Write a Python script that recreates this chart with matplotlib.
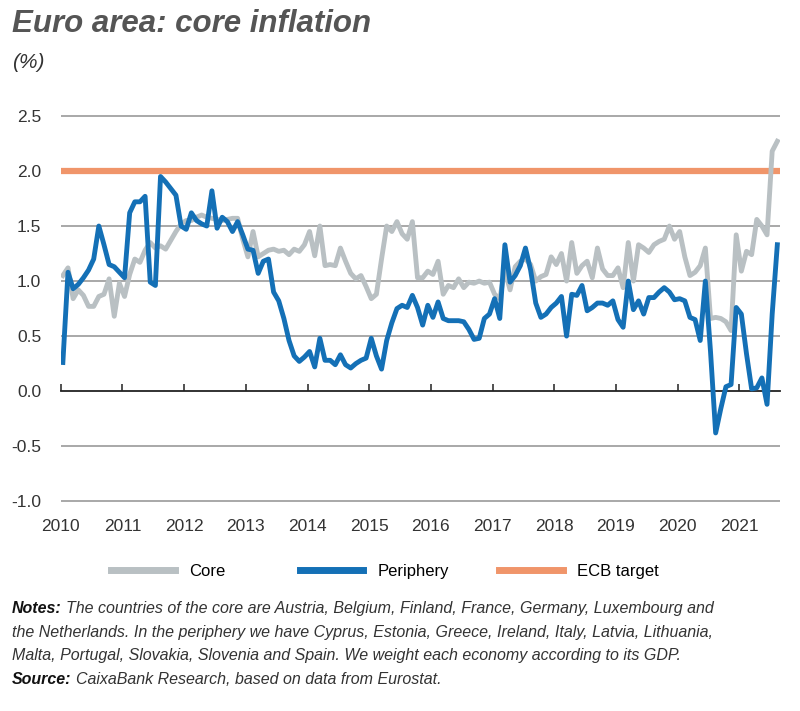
import numpy as np
import matplotlib
matplotlib.use("Agg")
import matplotlib.pyplot as plt

plt.rcParams['font.family'] = ['Liberation Sans', 'DejaVu Sans']

# monthly data, Jan 2010 - Aug 2021
periphery = [
    0.26, 1.08, 0.93, 0.97, 1.03, 1.10, 1.20, 1.50, 1.33, 1.15, 1.13, 1.08,
    1.03, 1.62, 1.72, 1.72, 1.77, 0.99, 0.96, 1.95, 1.90, 1.84, 1.78, 1.50,
    1.47, 1.62, 1.55, 1.52, 1.50, 1.82, 1.48, 1.58, 1.54, 1.45, 1.54, 1.42,
    1.29, 1.28, 1.07, 1.18, 1.20, 0.90, 0.82, 0.66, 0.46, 0.32, 0.27, 0.31,
    0.36, 0.22, 0.48, 0.28, 0.28, 0.24, 0.33, 0.24, 0.21, 0.25, 0.28, 0.30,
    0.48, 0.32, 0.20, 0.46, 0.62, 0.75, 0.78, 0.76, 0.87, 0.76, 0.60, 0.78,
    0.67, 0.81, 0.66, 0.64, 0.64, 0.64, 0.63, 0.56, 0.47, 0.48, 0.66, 0.70,
    0.84, 0.66, 1.33, 0.99, 1.05, 1.14, 1.30, 1.10, 0.80, 0.67, 0.70, 0.76,
    0.80, 0.86, 0.50, 0.88, 0.87, 0.96, 0.73, 0.76, 0.80, 0.80, 0.78, 0.82,
    0.65, 0.58, 1.00, 0.74, 0.82, 0.70, 0.85, 0.85, 0.90, 0.94, 0.90, 0.83,
    0.84, 0.82, 0.67, 0.65, 0.46, 1.00, 0.36, -0.38, -0.16, 0.04, 0.06, 0.76,
    0.70, 0.34, 0.02, 0.03, 0.12, -0.12, 0.70, 1.33,
]
core = [
    1.05, 1.12, 0.84, 0.92, 0.87, 0.77, 0.77, 0.86, 0.88, 1.02, 0.68, 0.98,
    0.86, 1.06, 1.20, 1.17, 1.28, 1.35, 1.30, 1.32, 1.29, 1.37, 1.45, 1.52,
    1.55, 1.55, 1.58, 1.60, 1.58, 1.57, 1.56, 1.55, 1.56, 1.57, 1.57, 1.38,
    1.22, 1.45, 1.22, 1.25, 1.28, 1.29, 1.27, 1.28, 1.24, 1.29, 1.27, 1.33,
    1.45, 1.23, 1.50, 1.14, 1.15, 1.14, 1.30, 1.18, 1.07, 1.02, 1.05, 0.95,
    0.84, 0.88, 1.20, 1.50, 1.45, 1.54, 1.43, 1.38, 1.54, 1.03, 1.03, 1.09,
    1.06, 1.18, 0.88, 0.96, 0.94, 1.02, 0.94, 0.99, 0.98, 1.00, 0.98, 0.99,
    0.88, 0.84, 1.10, 0.92, 1.13, 1.18, 1.20, 1.15, 1.00, 1.04, 1.06, 1.22,
    1.15, 1.25, 1.00, 1.35, 1.07, 1.14, 1.18, 1.03, 1.30, 1.11, 1.05, 1.05,
    1.12, 0.94, 1.35, 1.00, 1.33, 1.30, 1.26, 1.33, 1.36, 1.38, 1.50, 1.38,
    1.45, 1.22, 1.05, 1.08, 1.14, 1.30, 0.66, 0.67, 0.66, 0.63, 0.55, 1.42,
    1.09, 1.27, 1.24, 1.56, 1.50, 1.42, 2.18, 2.27,
]
ecb_target = 2.0
years = list(range(2010, 2022))
yticks = [-1.0, -0.5, 0.0, 0.5, 1.0, 1.5, 2.0, 2.5]

dates = 2010 + (np.arange(len(core)) + 0.4) / 12

fig = plt.figure(figsize=(8, 7.11), dpi=100)
ax = fig.add_axes([0.076, 0.292, 0.899, 0.548])

for y in yticks:
    if y != 0:
        ax.axhline(y, color='#9a9a9a', lw=1.2, zorder=1)

ax.axhline(ecb_target, color='#f0956a', lw=4.5, zorder=2, label='ECB target')
ax.plot(dates, core, color='#b9c0c3', lw=3.5, zorder=3, label='Core')
ax.plot(dates, periphery, color='#1470b6', lw=3.5, zorder=4, label='Periphery')

ax.set_xlim(2010, 2021.66)
ax.set_ylim(-1.02, 2.52)
ax.set_yticks(yticks)
ax.set_yticklabels([f'{v:.1f}' for v in yticks], fontsize=12.5, color='#333333')
ax.tick_params(axis='y', length=0, pad=14)

for s in ['top', 'right', 'left']:
    ax.spines[s].set_visible(False)
ax.spines['bottom'].set_position(('data', 0))
ax.spines['bottom'].set_color('#222222')
ax.spines['bottom'].set_linewidth(1.3)
ax.set_xticks(years)
ax.tick_params(axis='x', direction='in', length=5, width=1.1, color='#222222',
               labelbottom=False)

sec = ax.secondary_xaxis(0.0)
sec.set_xticks(years)
sec.set_xticklabels([str(y) for y in years], fontsize=12.5, color='#333333')
sec.tick_params(length=0, pad=11)
sec.spines['bottom'].set_visible(False)

fig.text(0.015, 0.966, 'Euro area: core inflation', fontsize=22.5, fontweight='bold',
         fontstyle='italic', color='#555555', va='center')
fig.text(0.015, 0.912, '(%)', fontsize=15, fontstyle='italic', color='#333333', va='center')

# legend: one entry per block, placed like the original
h, l = ax.get_legend_handles_labels()
for idx, xpos in zip([1, 2, 0], [0.139, 0.375, 0.624]):
    fig.legend([h[idx]], [l[idx]], loc='center left', bbox_to_anchor=(xpos, 0.196),
               frameon=False, fontsize=12, handlelength=3.8, handletextpad=0.85,
               borderpad=0, borderaxespad=0)
for lg in fig.legends:
    for ln in lg.get_lines():
        ln.set_linewidth(5)

ys = [0.1435, 0.111, 0.0785, 0.045]
lines = [
    'The countries of the core are Austria, Belgium, Finland, France, Germany, Luxembourg and',
    'the Netherlands. In the periphery we have Cyprus, Estonia, Greece, Ireland, Italy, Latvia, Lithuania,',
    'Malta, Portugal, Slovakia, Slovenia and Spain. We weight each economy according to its GDP.',
    'CaixaBank Research, based on data from Eurostat.',
]
heads = ['Notes:', '', '', 'Source:']
for head, line, y in zip(heads, lines, ys):
    x0 = 0.015
    if head:
        t = fig.text(x0, y, head, fontsize=11.5, fontweight='bold', fontstyle='italic',
                     color='#111111', va='center')
        fig.canvas.draw()
        bb = t.get_window_extent()
        x0 = (bb.x1 + 4) / fig.bbox.width
    fig.text(x0, y, line, fontsize=11.5, fontstyle='italic', color='#333333', va='center')

fig.savefig('out.png', dpi=100, facecolor='white')
